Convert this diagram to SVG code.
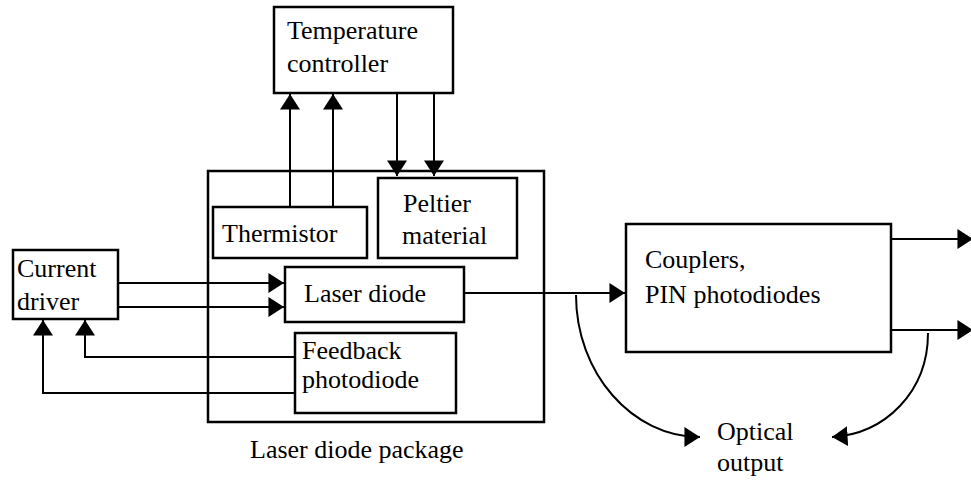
<svg xmlns="http://www.w3.org/2000/svg" width="971" height="481" viewBox="0 0 971 481">
<style>
.box{fill:#fff;stroke:#000;stroke-width:2.5}
.pkg{fill:none;stroke:#000;stroke-width:2.5}
.c{fill:none;stroke:#000;stroke-width:2}
text{font-family:"Liberation Serif","Times New Roman",serif;font-size:26px;fill:#000}
</style>
<defs>
<marker id="ah" markerUnits="userSpaceOnUse" markerWidth="16" markerHeight="20" viewBox="0 0 14 18" refX="14" refY="9" orient="auto">
<path d="M0,0 L14,9 L0,18 z" fill="#000"/>
</marker>
</defs>
<g id="package">
<rect class="pkg" x="208" y="171" width="336" height="251"/>
<text x="250" y="458">Laser diode package</text>
</g>
<g id="temperature-controller">
<rect class="box" x="274" y="7" width="179" height="86"/>
<text x="287" y="39">Temperature</text>
<text x="287" y="72">controller</text>
</g>
<g id="thermistor">
<rect class="box" x="213" y="207" width="154" height="51"/>
<text x="222" y="242">Thermistor</text>
</g>
<g id="peltier">
<rect class="box" x="378" y="178" width="139" height="80"/>
<text x="403" y="212">Peltier</text>
<text x="402" y="244">material</text>
</g>
<g id="current-driver">
<rect class="box" x="13" y="250" width="105" height="69"/>
<text x="17" y="277">Current</text>
<text x="17" y="310">driver</text>
</g>
<g id="laser-diode">
<rect class="box" x="285" y="267" width="179" height="55"/>
<text x="304" y="302">Laser diode</text>
</g>
<g id="feedback-photodiode">
<rect class="box" x="295" y="333" width="161" height="80"/>
<text x="302" y="359">Feedback</text>
<text x="302" y="388">photodiode</text>
</g>
<g id="couplers">
<rect class="box" x="626" y="224" width="265" height="128"/>
<text x="645" y="268">Couplers,</text>
<text x="645" y="303">PIN photodiodes</text>
</g>
<g id="optical-output">
<text x="717" y="440">Optical</text>
<text x="717" y="471">output</text>
</g>
<g id="connectors">
<line class="c" x1="290" y1="207" x2="290" y2="94" marker-end="url(#ah)"/>
<line class="c" x1="333" y1="207" x2="333" y2="94" marker-end="url(#ah)"/>
<line class="c" x1="397" y1="93" x2="397" y2="176" marker-end="url(#ah)"/>
<line class="c" x1="434" y1="93" x2="434" y2="176" marker-end="url(#ah)"/>
<line class="c" x1="118" y1="283" x2="284" y2="283" marker-end="url(#ah)"/>
<line class="c" x1="118" y1="307" x2="284" y2="307" marker-end="url(#ah)"/>
<polyline class="c" points="295,357 85,357 85,320" marker-end="url(#ah)"/>
<polyline class="c" points="295,393 43,393 43,320" marker-end="url(#ah)"/>
<line class="c" x1="464" y1="293" x2="625" y2="293" marker-end="url(#ah)"/>
<line class="c" x1="891" y1="239" x2="973" y2="239" marker-end="url(#ah)"/>
<line class="c" x1="891" y1="330" x2="973" y2="330" marker-end="url(#ah)"/>
<path class="c" d="M576,295 C576,373 632,437 700,437" marker-end="url(#ah)"/>
<path class="c" d="M928,333 C928,392 885,434 832,437" marker-end="url(#ah)"/>
</g>
</svg>
